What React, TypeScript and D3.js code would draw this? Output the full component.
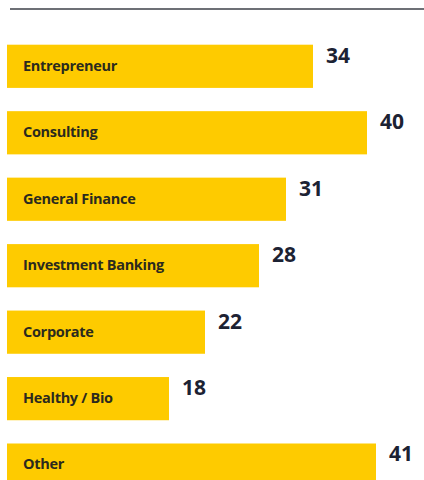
import React from "react";
import * as d3 from "d3";

const categories = ["Entrepreneur", "Consulting", "General Finance", "Investment Banking", "Corporate", "Healthy / Bio", "Other"];
const values = [34, 40, 31, 28, 22, 18, 41];

const W = 424;
const H = 480;

export default function App() {
  const x = d3.scaleLinear().domain([0, 10]).range([7, 97]);
  const y = d3
    .scaleBand<string>()
    .domain(categories)
    .range([44.7, 44.7 + 66.5 * 6 + 43])
    .paddingInner(0.35)
    .paddingOuter(0);
  const bw = y.bandwidth();
  return (
    <div style={{ position: "absolute", left: 0, top: 0 }}>
      <svg width={W} height={H} style={{ display: "block" }}>
        <line x1={10} x2={424} y1={9} y2={9} stroke="#3c4148" strokeWidth={1.6} />
        {categories.map((c, i) => {
          const y0 = y(c)!;
          return (
            <g key={c}>
              <rect x={x(0)} y={y0} width={x(values[i]) - x(0)} height={bw} fill="#fecb00" />
              <text x={23} y={y0 + 26} fontFamily="'Open Sans', sans-serif" fontWeight={700} fontSize={14.5} fill="#2b2a1e" letterSpacing={-0.3}>
                {c}
              </text>
              <text x={x(values[i]) + 13} y={y0 + 18} fontFamily="'Open Sans', sans-serif" fontWeight={700} fontSize={21} fill="#1c2233">
                {values[i]}
              </text>
            </g>
          );
        })}
      </svg>
    </div>
  );
}
